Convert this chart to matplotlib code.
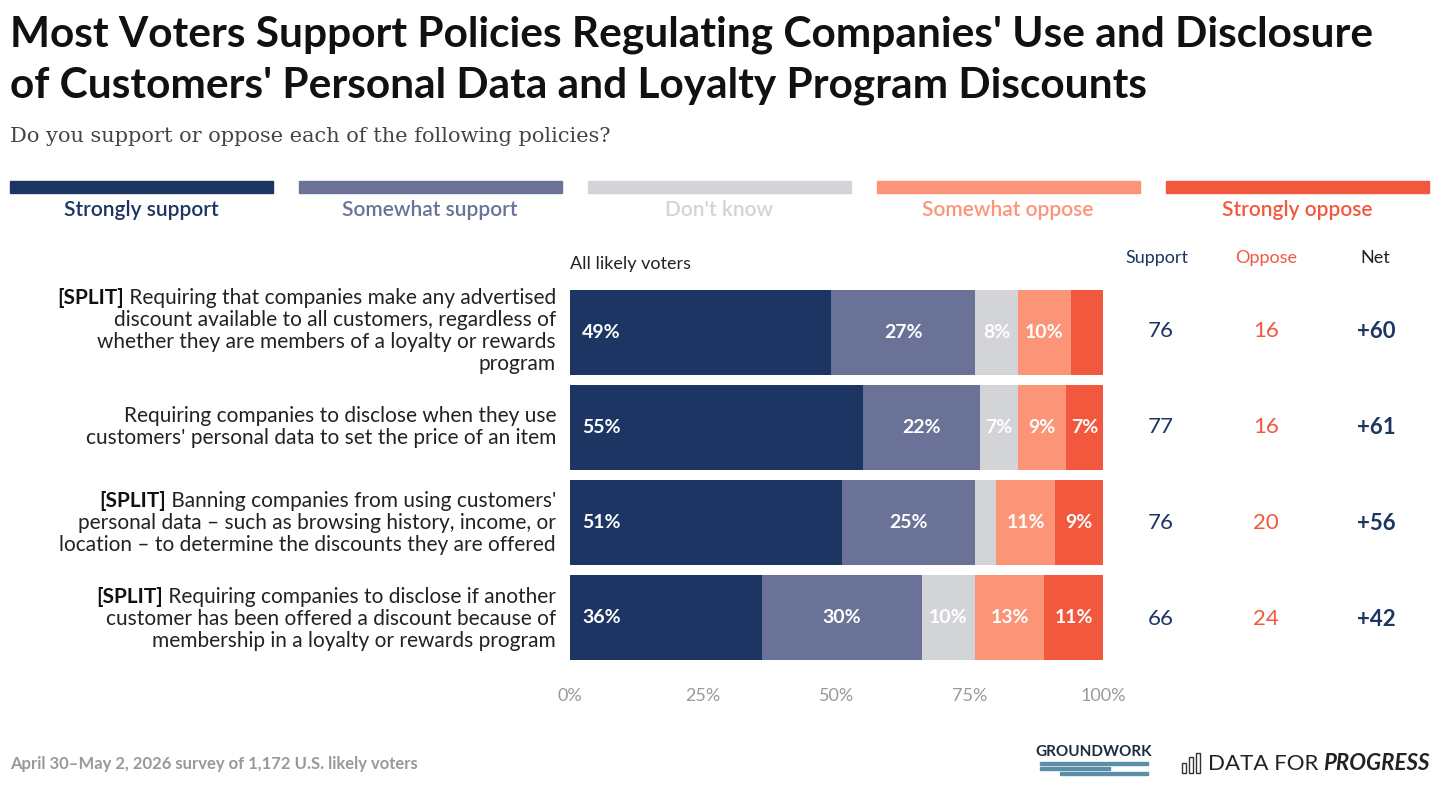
import numpy as np
import matplotlib.pyplot as plt
from matplotlib.patches import Rectangle

categories = ["Strongly support", "Somewhat support", "Don't know", "Somewhat oppose", "Strongly oppose"]
colors = ["#1c3562", "#6a7397", "#d2d4d7", "#fc9577", "#f2583e"]
label_colors = ["#1c3562", "#6a7397", "#d2d4d7", "#fc9577", "#f2583e"]

questions = [
    ("[SPLIT]", " Requiring that companies make any advertised\ndiscount available to all customers, regardless of\nwhether they are members of a loyalty or rewards\nprogram"),
    ("", "Requiring companies to disclose when they use\ncustomers' personal data to set the price of an item"),
    ("[SPLIT]", " Banning companies from using customers'\npersonal data \u2013 such as browsing history, income, or\nlocation \u2013 to determine the discounts they are offered"),
    ("[SPLIT]", " Requiring companies to disclose if another\ncustomer has been offered a discount because of\nmembership in a loyalty or rewards program"),
]
values = np.array([
    [49, 27, 8, 10, 6],
    [55, 22, 7, 9, 7],
    [51, 25, 4, 11, 9],
    [36, 30, 10, 13, 11],
])
support = [76, 77, 76, 66]
oppose = [16, 16, 20, 24]
net = ["+60", "+61", "+56", "+42"]
ticks = [0, 25, 50, 75, 100]

plt.rcParams['font.family'] = ['Lato', 'DejaVu Sans']
fig = plt.figure(figsize=(14.4, 7.97), dpi=100)
W, H = 1440, 797
def fx(x): return x / W
def fy(y): return 1 - y / H

fig.text(fx(10), fy(35), "Most Voters Support Policies Regulating Companies' Use and Disclosure",
         fontsize=30.5, fontweight='bold', color='#111111', va='center')
fig.text(fx(10), fy(86), "of Customers' Personal Data and Loyalty Program Discounts",
         fontsize=30.5, fontweight='bold', color='#111111', va='center')
fig.text(fx(10), fy(136), "Do you support or oppose each of the following policies?",
         fontsize=15, family='DejaVu Serif', color='#444444', va='center')

# legend strips
lx = [10, 299, 588, 877, 1166]
for x0, c, lc, name in zip(lx, colors, label_colors, categories):
    fig.patches.append(Rectangle((fx(x0), fy(193)), fx(263), 12 / H, color=c, transform=fig.transFigure))
    fig.text(fx(x0 + 131), fy(210), name, fontsize=15, fontweight='semibold', color=lc, ha='center', va='center')

ax = fig.add_axes([fx(570), fy(665), fx(1103 - 570), (665 - 285) / H])
y = np.arange(len(values))
left = np.zeros(len(values))
for j in range(values.shape[1]):
    ax.barh(y, values[:, j], left=left, height=0.9, color=colors[j])
    for i in range(len(values)):
        v = values[i, j]
        if v >= 7:
            if j == 0:
                ax.text(left[i] + 2.3, y[i], f"{v}%", color='white', fontsize=14, fontweight='bold', va='center', ha='left')
            else:
                ax.text(left[i] + v / 2, y[i], f"{v}%", color='white', fontsize=14, fontweight='bold', va='center', ha='center')
    left += values[:, j]
ax.set_xlim(0, 100)
ax.set_ylim(3.5, -0.5)
ax.axis('off')
for t in ticks:
    ax.text(t, 3.83, f"{t}%", ha='center', va='center', fontsize=13, color='#999999')
ax.text(0, -0.72, "All likely voters", fontsize=13, color='#222222', va='center', ha='left')

row_y = [331, 427, 523, 619]
for (pre, txt), ry in zip(questions, row_y):
    lines = txt.split("\n")
    n = len(lines)
    lh = 22
    for k, line in enumerate(lines):
        yy = ry + (k - (n - 1) / 2) * lh
        if k == 0 and pre:
            t = fig.text(fx(556), fy(yy), line, fontsize=15, color='#222222', ha='right', va='center')
            fig.canvas.draw()
            bb = t.get_window_extent()
            fig.text(bb.x0 / W, fy(yy), pre, fontsize=15, fontweight='bold', color='#111111', ha='right', va='center')
        else:
            fig.text(fx(556), fy(yy), line, fontsize=15, color='#222222', ha='right', va='center')

cols = [(1157, "Support", "#1c3562"), (1266, "Oppose", "#f2583e"), (1375, "Net", "#222222")]
for x0, name, c in cols:
    fig.text(fx(x0), fy(258), name, fontsize=13, color=c, ha='center', va='center')
for i, ry in enumerate(row_y):
    fig.text(fx(1161), fy(ry), str(support[i]), fontsize=16, color='#1c3562', ha='center', va='center')
    fig.text(fx(1266), fy(ry), str(oppose[i]), fontsize=16, color='#f2583e', ha='center', va='center')
    fig.text(fx(1376), fy(ry), net[i], fontsize=16, fontweight='bold', color='#1c3562', ha='center', va='center')

fig.text(fx(10), fy(764), "April 30\u2013May 2, 2026 survey of 1,172 U.S. likely voters",
         fontsize=12, fontweight='bold', color='#999999', va='center')
fig.text(fx(1094), fy(752), "GROUNDWORK", fontsize=11, fontweight='bold', color='#1c2a44', ha='center', va='center')
for k, (x0, w) in enumerate([(1040, 108), (1040, 70), (1060, 88)]):
    fig.patches.append(Rectangle((fx(x0), fy(765 + k * 5)), fx(w), 3 / H, color='#5b8fa8', transform=fig.transFigure))
for k, hh in enumerate([10, 16, 20]):
    fig.patches.append(Rectangle((fx(1182 + k * 7), fy(773)), fx(4), hh / H, fill=False, ec='#333333', lw=1, transform=fig.transFigure))
fig.text(fx(1208), fy(764), "DATA FOR", fontsize=16, color='#222222', va='center')
fig.text(fx(1430), fy(764), "PROGRESS", fontsize=16, fontweight='bold', style='italic', color='#222222', va='center', ha='right')

fig.savefig("out.png", dpi=100)
